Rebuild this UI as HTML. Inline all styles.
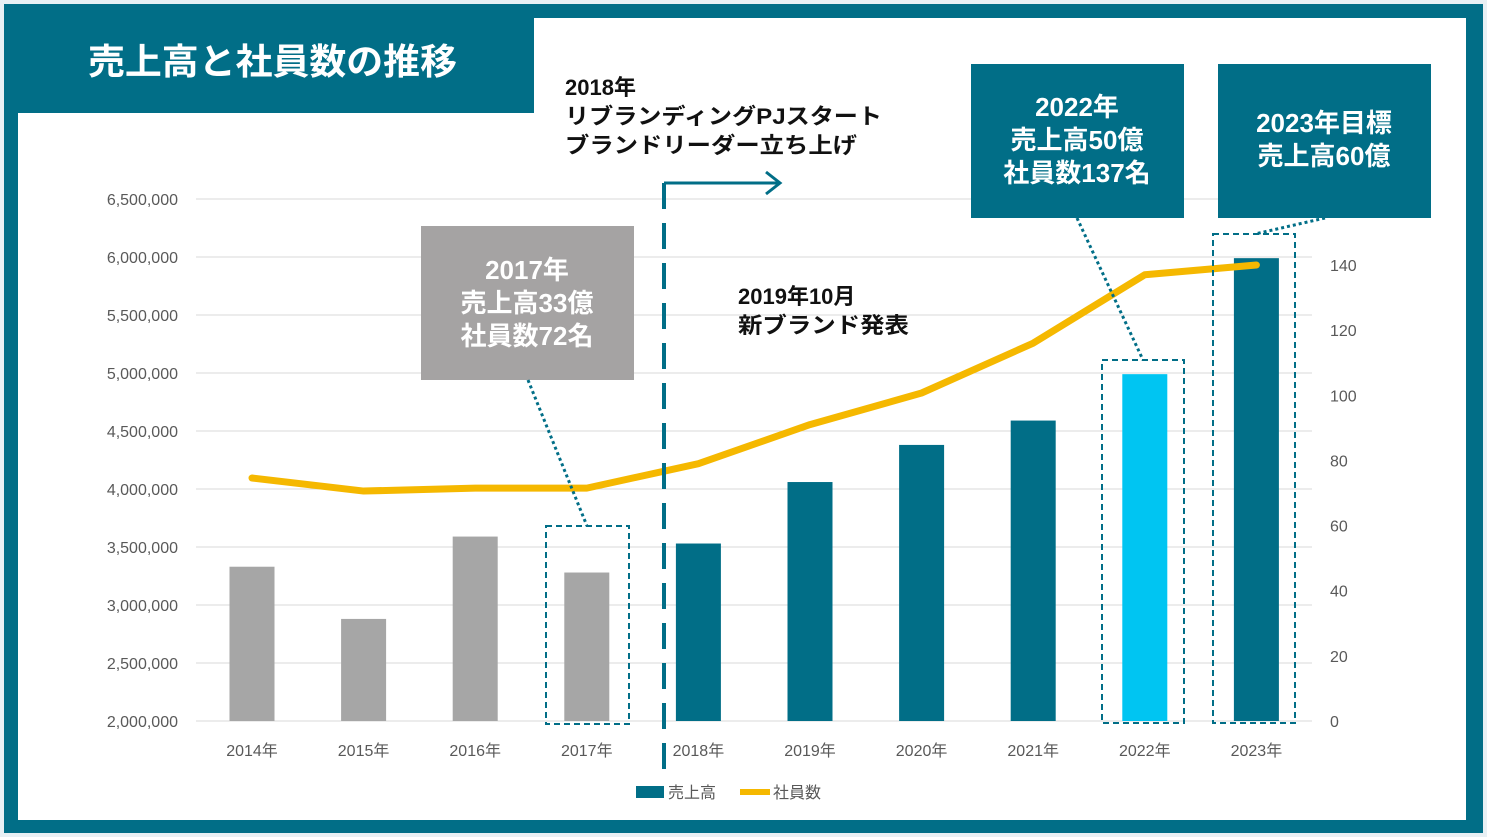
<!DOCTYPE html>
<html><head><meta charset="utf-8"><style>
body{margin:0;width:1487px;height:837px;overflow:hidden;background:#e8f0f4}
svg{display:block}
text{font-family:"Liberation Sans","Noto Sans CJK JP",sans-serif}
</style></head><body>
<svg id="c" width="1487" height="837">
<rect x="4" y="4" width="1479" height="829" fill="#016e87"/>
<rect x="18" y="18" width="1448" height="802" fill="#fff"/>
<rect x="4" y="4" width="530" height="109" fill="#016e87"/>
<text x="88" y="74" font-size="36" font-weight="bold" fill="#fff" textLength="369" lengthAdjust="spacingAndGlyphs">売上高と社員数の推移</text>
<g id="grid"></g><g id="bars"></g><g id="line"></g><g id="ann"></g>
</svg>
<script>
const categories=["2014年","2015年","2016年","2017年","2018年","2019年","2020年","2021年","2022年","2023年"];
const sales=[3330000,2880000,3590000,3280000,3530000,4060000,4380000,4590000,4990000,5990000];
const employees=[74.6,70.6,71.5,71.5,79,91,100.7,116,137,140];
const leftTicks=[2000000,2500000,3000000,3500000,4000000,4500000,5000000,5500000,6000000,6500000];
const rightTicks=[0,20,40,60,80,100,120,140];
const NS="http://www.w3.org/2000/svg";
const yL=v=>721-(v-2000000)/500000*58;
const yR=v=>721-v/140*456;
const xC=i=>252+i*111.6;
function mk(tag,attrs,parent,txt){const e=document.createElementNS(NS,tag);for(const k in attrs)e.setAttribute(k,attrs[k]);if(txt!==undefined)e.textContent=txt;parent.appendChild(e);return e;}
const grid=document.getElementById('grid');
leftTicks.forEach(v=>{
 const l=mk('line',{x1:196,x2:1312,y1:yL(v),y2:yL(v),stroke:'#d9d9d9','stroke-width':1},grid);
 
 
 const t=mk('text',{x:178,y:yL(v)+6,'text-anchor':'end','font-size':16,fill:'#595959'},grid,v.toLocaleString('en-US'));
 
 
});
rightTicks.forEach(v=>{
 const t=mk('text',{x:1330,y:yR(v)+6,'font-size':16,fill:'#595959'},grid,String(v));
 
 
});
const bars=document.getElementById('bars');
categories.forEach((c,i)=>{
 const col=i<4?'#a6a6a6':(i==8?'#00c5f2':'#016e87');
 const r=mk('rect',{x:xC(i)-22.5,y:yL(sales[i]),width:45,height:721-yL(sales[i]),fill:col},bars);
 
 
 const t=mk('text',{x:xC(i),y:756,'text-anchor':'middle','font-size':16,fill:'#595959'},bars,c);
 
 
});
const lg=document.getElementById('line');
const p=mk('polyline',{points:employees.map((v,i)=>xC(i)+','+yR(v)).join(' '),fill:'none',stroke:'#f5b800','stroke-width':7,'stroke-linecap':'round','stroke-linejoin':'round'},lg);


</script>
<svg width="1487" height="837" style="position:absolute;left:0;top:0">
<g font-family="Liberation Sans,Noto Sans CJK JP,sans-serif">
<line x1="664" y1="183" x2="664" y2="780" stroke="#016e87" stroke-width="4" stroke-dasharray="26,14"/>
<polyline points="664,183 780,183" fill="none" stroke="#016e87" stroke-width="3"/>
<polyline points="766,172 780,183 766,194" fill="none" stroke="#016e87" stroke-width="3"/>
<text font-size="22" font-weight="bold" fill="#111"><tspan x="565" y="95">2018年</tspan><tspan x="565" y="124" textLength="317" lengthAdjust="spacingAndGlyphs">リブランディングPJスタート</tspan><tspan x="565" y="153" textLength="292" lengthAdjust="spacingAndGlyphs">ブランドリーダー立ち上げ</tspan></text>
<text font-size="22" font-weight="bold" fill="#111"><tspan x="738" y="304">2019年10月</tspan><tspan x="738" y="333" textLength="171" lengthAdjust="spacingAndGlyphs">新ブランド発表</tspan></text>
<rect x="421" y="226" width="213" height="154" fill="#a5a3a3"/>
<text font-size="26" font-weight="bold" fill="#fff" text-anchor="middle"><tspan x="527" y="279">2017年</tspan><tspan x="527" y="312">売上高33億</tspan><tspan x="527" y="345">社員数72名</tspan></text>
<line x1="528" y1="380" x2="587" y2="526" stroke="#016e87" stroke-width="3" stroke-dasharray="3,3"/>
<rect x="546" y="526" width="83" height="198" fill="none" stroke="#016e87" stroke-width="2" stroke-dasharray="6,4"/>
<rect x="971" y="64" width="213" height="154" fill="#016e87"/>
<text font-size="26" font-weight="bold" fill="#fff" text-anchor="middle"><tspan x="1077" y="116">2022年</tspan><tspan x="1077" y="149">売上高50億</tspan><tspan x="1077" y="182">社員数137名</tspan></text>
<line x1="1077" y1="218" x2="1143" y2="360" stroke="#016e87" stroke-width="3" stroke-dasharray="3,3"/>
<rect x="1102" y="360" width="82" height="363" fill="none" stroke="#016e87" stroke-width="2" stroke-dasharray="6,4"/>
<rect x="1218" y="64" width="213" height="154" fill="#016e87"/>
<text font-size="26" font-weight="bold" fill="#fff" text-anchor="middle"><tspan x="1324" y="132">2023年目標</tspan><tspan x="1324" y="165">売上高60億</tspan></text>
<line x1="1325" y1="218" x2="1255" y2="234" stroke="#016e87" stroke-width="3" stroke-dasharray="3,3"/>
<rect x="1213" y="234" width="82" height="489" fill="none" stroke="#016e87" stroke-width="2" stroke-dasharray="6,4"/>
<rect x="636" y="786" width="28" height="12" fill="#016e87"/>
<text x="668" y="798" font-size="16" fill="#595959">売上高</text>
<line x1="740" y1="792" x2="770" y2="792" stroke="#f5b800" stroke-width="6"/>
<text x="773" y="798" font-size="16" fill="#595959">社員数</text>
</g></svg>
</body></html>
